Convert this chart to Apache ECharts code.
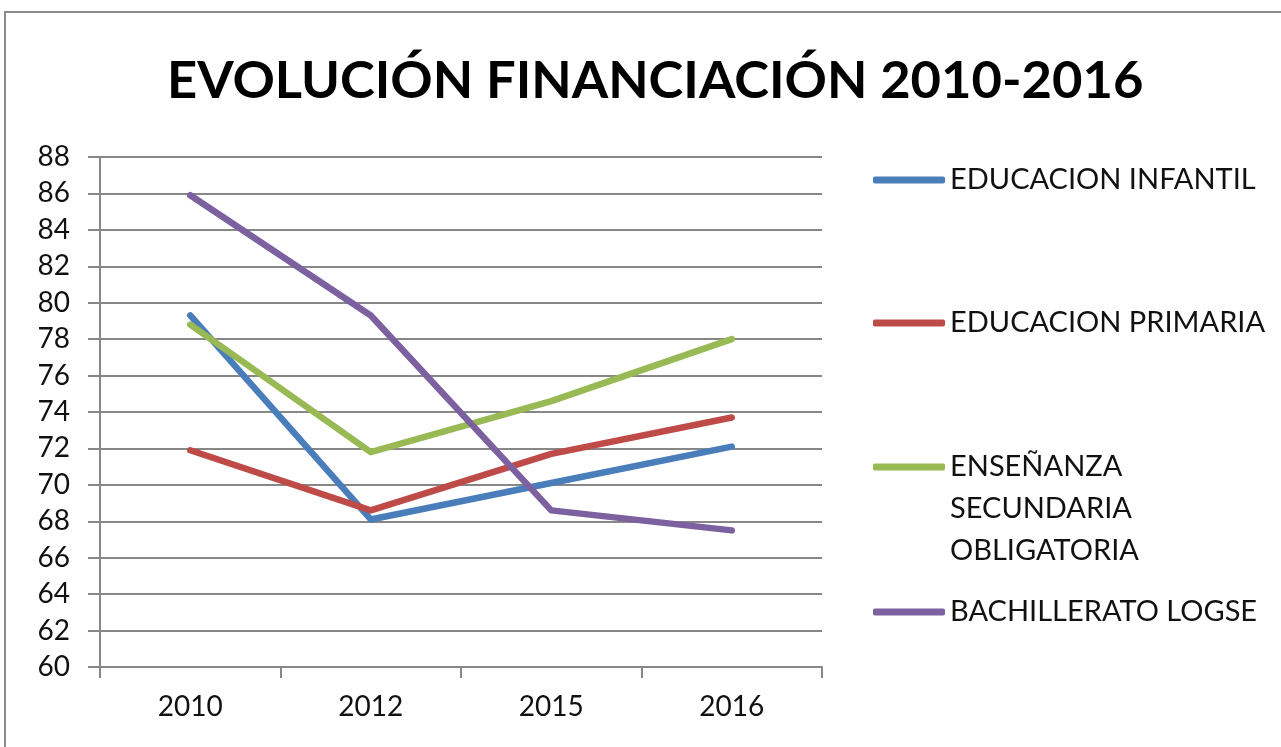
<!DOCTYPE html>
<html>
<head>
<meta charset="utf-8">
<script src="https://cdn.jsdelivr.net/npm/echarts@6/dist/echarts.min.js"></script>
<style>
  html, body { margin: 0; padding: 0; background: #fff; }
  #chart { width: 1281px; height: 747px; }
</style>
</head>
<body>
<div id="chart"></div>
<script>
// datos
const years = ["2010", "2012", "2015", "2016"];
const infantil = [79.3, 68.1, 70.1, 72.1];
const primaria = [71.9, 68.6, 71.7, 73.7];
const eso = [78.8, 71.8, 74.6, 78.0];
const bachillerato = [85.9, 79.3, 68.6, 67.5];

const names = ["EDUCACION INFANTIL", "EDUCACION PRIMARIA", "ENSEÑANZA SECUNDARIA OBLIGATORIA", "BACHILLERATO LOGSE"];
const colors = ["#4a7ebb", "#be4b48", "#98b954", "#7d60a0"];
// top of each legend box (the ESO one has two blank lines above it)
const legendTops = [159, 302, 362, 591];

const chart = echarts.init(document.getElementById("chart"));

const font = "Lato";
const gray = "#878787";

const legends = names.map(function (n, i) {
  const multi = n.indexOf("ENSEÑANZA") === 0;
  return {
    left: 873,
    top: legendTops[i],
    padding: 0,
    orient: "vertical",
    data: [n],
    icon: "roundRect",
    itemWidth: 72,
    itemHeight: 7,
    selectedMode: false,
    formatter: multi ? function () { return " \n \nENSEÑANZA\nSECUNDARIA\nOBLIGATORIA"; } : undefined,
    textStyle: {
      fontFamily: font,
      fontSize: 29,
      color: "#111",
      lineHeight: 42
    }
  };
});

const series = [infantil, primaria, eso, bachillerato].map(function (d, i) {
  return {
    name: names[i],
    type: "line",
    data: d,
    showSymbol: false,
    symbol: "none",
    lineStyle: { width: 6.5, color: colors[i], cap: "round", join: "round" },
    itemStyle: { color: colors[i] }
  };
});

const option = {
  backgroundColor: "#fff",
  animation: false,
  color: colors,
  title: {
    text: "EVOLUCIÓN FINANCIACIÓN 2010-2016",
    left: 162,
    top: 50,
    textStyle: { fontFamily: font, fontWeight: "bold", fontSize: 52.5, color: "#000" }
  },
  graphic: [{
    type: "rect",
    shape: { x: 5, y: 12, width: 1400, height: 900 },
    style: { fill: "none", stroke: "#8a8a8a", lineWidth: 2 },
    silent: true
  }],
  legend: legends,
  grid: { left: 100, right: 459, top: 157, bottom: 80 },
  xAxis: {
    type: "category",
    data: years,
    boundaryGap: true,
    axisLine: { lineStyle: { color: gray, width: 2 } },
    axisTick: { show: true, length: 11, lineStyle: { color: gray, width: 2 } },
    axisLabel: { fontFamily: font, fontSize: 28, color: "#111", margin: 26 }
  },
  yAxis: {
    type: "value",
    min: 60,
    max: 88,
    interval: 2,
    axisLine: { show: true, lineStyle: { color: gray, width: 2 } },
    axisTick: { show: true, length: 12, lineStyle: { color: gray, width: 2 } },
    axisLabel: { fontFamily: font, fontSize: 28, color: "#111", margin: 30 },
    splitLine: { lineStyle: { color: gray, width: 2 } }
  },
  series: series
};

chart.setOption(option);
</script>
</body>
</html>
